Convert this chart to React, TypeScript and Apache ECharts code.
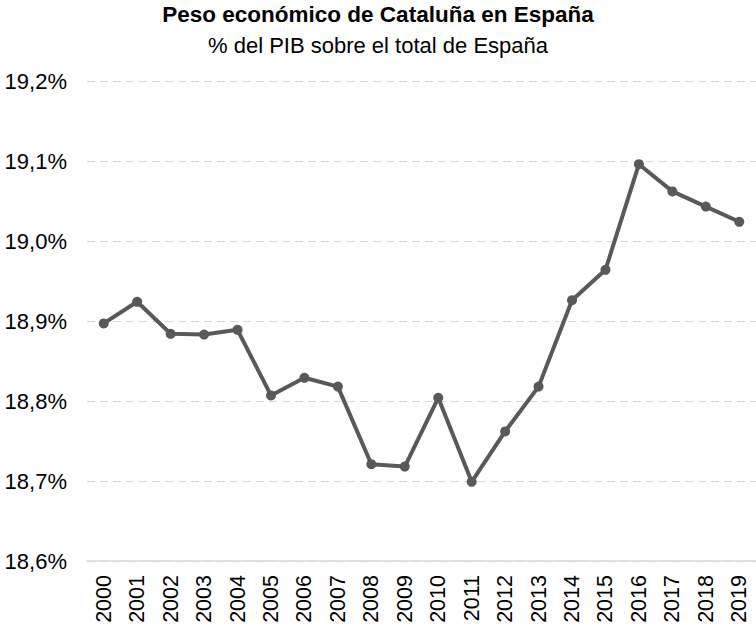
import React, { useEffect, useRef } from "react";
import * as echarts from "echarts";

const titleText = "Peso económico de Cataluña en España";
const subtitleText = "% del PIB sobre el total de España";
const years = ["2000","2001","2002","2003","2004","2005","2006","2007","2008","2009","2010","2011","2012","2013","2014","2015","2016","2017","2018","2019"];
const shares = [18.897,18.924,18.884,18.883,18.889,18.807,18.829,18.818,18.721,18.718,18.804,18.699,18.762,18.818,18.926,18.964,19.096,19.062,19.043,19.024];
const yMin = 18.6;
const yMax = 19.2;
const yStep = 0.1;

const FONT = "'Liberation Sans', Arial, sans-serif";

export default function App() {
  const ref = useRef<HTMLDivElement>(null);
  useEffect(() => {
    if (!ref.current) return;
    const chart = echarts.init(ref.current, null, { renderer: "svg" });
    chart.setOption({
      animation: false,
      backgroundColor: "#ffffff",
      title: [
        {
          text: titleText,
          left: "center",
          top: 3,
          padding: 0,
          textStyle: { fontFamily: FONT, fontSize: 22.5, fontWeight: "bold", color: "#000" },
        },
        {
          text: subtitleText,
          left: "center",
          top: 34,
          padding: 0,
          textStyle: { fontFamily: FONT, fontSize: 22, fontWeight: "normal", color: "#000" },
        },
      ],
      grid: { left: 87, right: 0, top: 81, bottom: 67, containLabel: false },
      xAxis: {
        type: "category",
        data: years,
        boundaryGap: true,
        axisLine: { show: true, lineStyle: { color: "#d9d9d9", width: 1.5 } },
        axisTick: { show: false },
        axisLabel: {
          rotate: 90,
          margin: 14,
          fontFamily: FONT,
          fontSize: 21.5,
          color: "#000",
          interval: 0,
        },
        splitLine: { show: false },
      },
      yAxis: {
        type: "value",
        min: yMin,
        max: yMax,
        interval: yStep,
        axisLine: { show: false },
        axisTick: { show: false },
        axisLabel: {
          margin: 20,
          fontFamily: FONT,
          fontSize: 22,
          color: "#000",
          formatter: (v: number) => v.toFixed(1).replace(".", ",") + "%",
        },
        splitLine: { show: true, lineStyle: { color: "#d9d9d9", width: 1.2, type: [8, 5] } },
      },
      series: [
        {
          type: "line",
          data: shares,
          symbol: "circle",
          symbolSize: 10,
          lineStyle: { color: "#595959", width: 4 },
          itemStyle: { color: "#595959" },
        },
      ],
    });
    return () => chart.dispose();
  }, []);
  return <div ref={ref} style={{ position: "fixed", left: 0, top: 0, width: 756, height: 628 }} />;
}
